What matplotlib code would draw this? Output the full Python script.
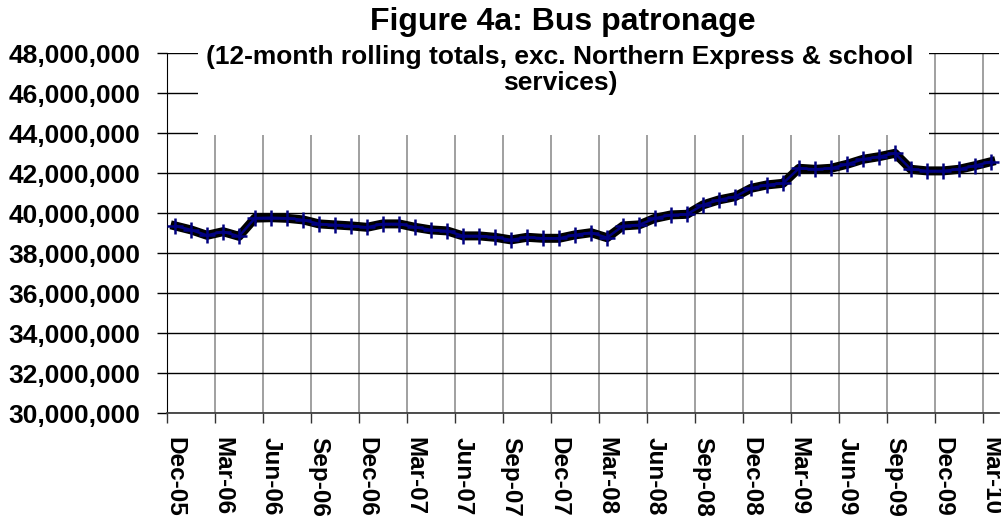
import matplotlib
matplotlib.use('Agg')
import matplotlib.pyplot as plt
from matplotlib.patches import Rectangle
from matplotlib.ticker import FuncFormatter, FixedLocator

plt.rcParams['font.family'] = ['Liberation Sans', 'DejaVu Sans']
plt.rcParams['font.weight'] = 'bold'

# Monthly 12-month rolling totals, Dec-05 .. Mar-10 (millions)
patronage = [39.37, 39.17, 38.90, 39.08, 38.85, 39.76, 39.78, 39.75, 39.67, 39.47,
             39.42, 39.37, 39.30, 39.47, 39.47, 39.30, 39.17, 39.12, 38.87, 38.87,
             38.80, 38.67, 38.80, 38.75, 38.75, 38.92, 39.03, 38.78, 39.37, 39.42,
             39.75, 39.92, 39.95, 40.42, 40.67, 40.83, 41.25, 41.42, 41.50, 42.25,
             42.20, 42.25, 42.45, 42.70, 42.83, 43.00, 42.20, 42.12, 42.12, 42.20,
             42.38, 42.58]
tick_labels = ['Dec-05', 'Mar-06', 'Jun-06', 'Sep-06', 'Dec-06', 'Mar-07', 'Jun-07',
               'Sep-07', 'Dec-07', 'Mar-08', 'Jun-08', 'Sep-08', 'Dec-08', 'Mar-09',
               'Jun-09', 'Sep-09', 'Dec-09', 'Mar-10']
y_ticks = list(range(30000000, 48000001, 2000000))

values = [v * 1e6 for v in patronage]
x = list(range(len(values)))

fig = plt.figure(figsize=(10.01, 5.26), dpi=100)
ax = fig.add_axes([167 / 1001, 112.7 / 526, 832 / 1001, 360 / 526])

# thick black line with navy line and plus markers on top
ax.plot(x, values, color='black', lw=6.5, solid_joinstyle='round', zorder=3)
ax.plot(x, values, color='#000080', lw=1.8, marker='+', ms=12, mew=1.8, zorder=4)

ax.set_xlim(-0.5, 51.5)
ax.set_ylim(30000000, 48000000)
ax.set_yticks(y_ticks)
ax.yaxis.set_major_formatter(FuncFormatter(lambda v, p: f'{int(v):,}'))

# labels centred on categories, tick marks / grid on category boundaries
label_pos = [3 * i for i in range(len(tick_labels))]
ax.xaxis.set_major_locator(FixedLocator(label_pos))
ax.set_xticklabels(tick_labels, rotation=-90, fontsize=17.5, fontweight='bold')
ax.xaxis.set_minor_locator(FixedLocator([p - 0.5 for p in label_pos]))
ax.tick_params(axis='x', which='major', length=0, pad=17)
ax.tick_params(axis='x', which='minor', length=7, width=1, color='#333333')
ax.tick_params(axis='y', length=7, width=1, pad=12, labelsize=19, color='black')
for t in ax.get_yticklabels():
    t.set_fontweight('bold')

ax.grid(axis='y', which='major', color='black', lw=1)
ax.grid(axis='x', which='minor', color='#999999', lw=1.3)
ax.set_axisbelow(True)

ax.spines['top'].set_visible(False)
ax.spines['right'].set_visible(False)
ax.spines['left'].set_color('black')
ax.spines['bottom'].set_color('#404040')
ax.spines['bottom'].set_linewidth(1.3)

# white title area over the plot
fig.add_artist(Rectangle((198 / 1001, 1 - 135 / 526), 731 / 1001, 120 / 526,
                         transform=fig.transFigure, facecolor='white',
                         edgecolor='none', zorder=2))
fig.text(563 / 1001, 1 - 22 / 526, 'Figure 4a: Bus patronage', ha='center',
         va='center', fontsize=23, fontweight='bold', zorder=5)
fig.text(560 / 1001, 1 - 70 / 526,
         '(12-month rolling totals, exc. Northern Express & school\nservices)',
         ha='center', va='center', fontsize=19, fontweight='bold',
         linespacing=1.12, zorder=5)

fig.savefig('out.png', dpi=100)
